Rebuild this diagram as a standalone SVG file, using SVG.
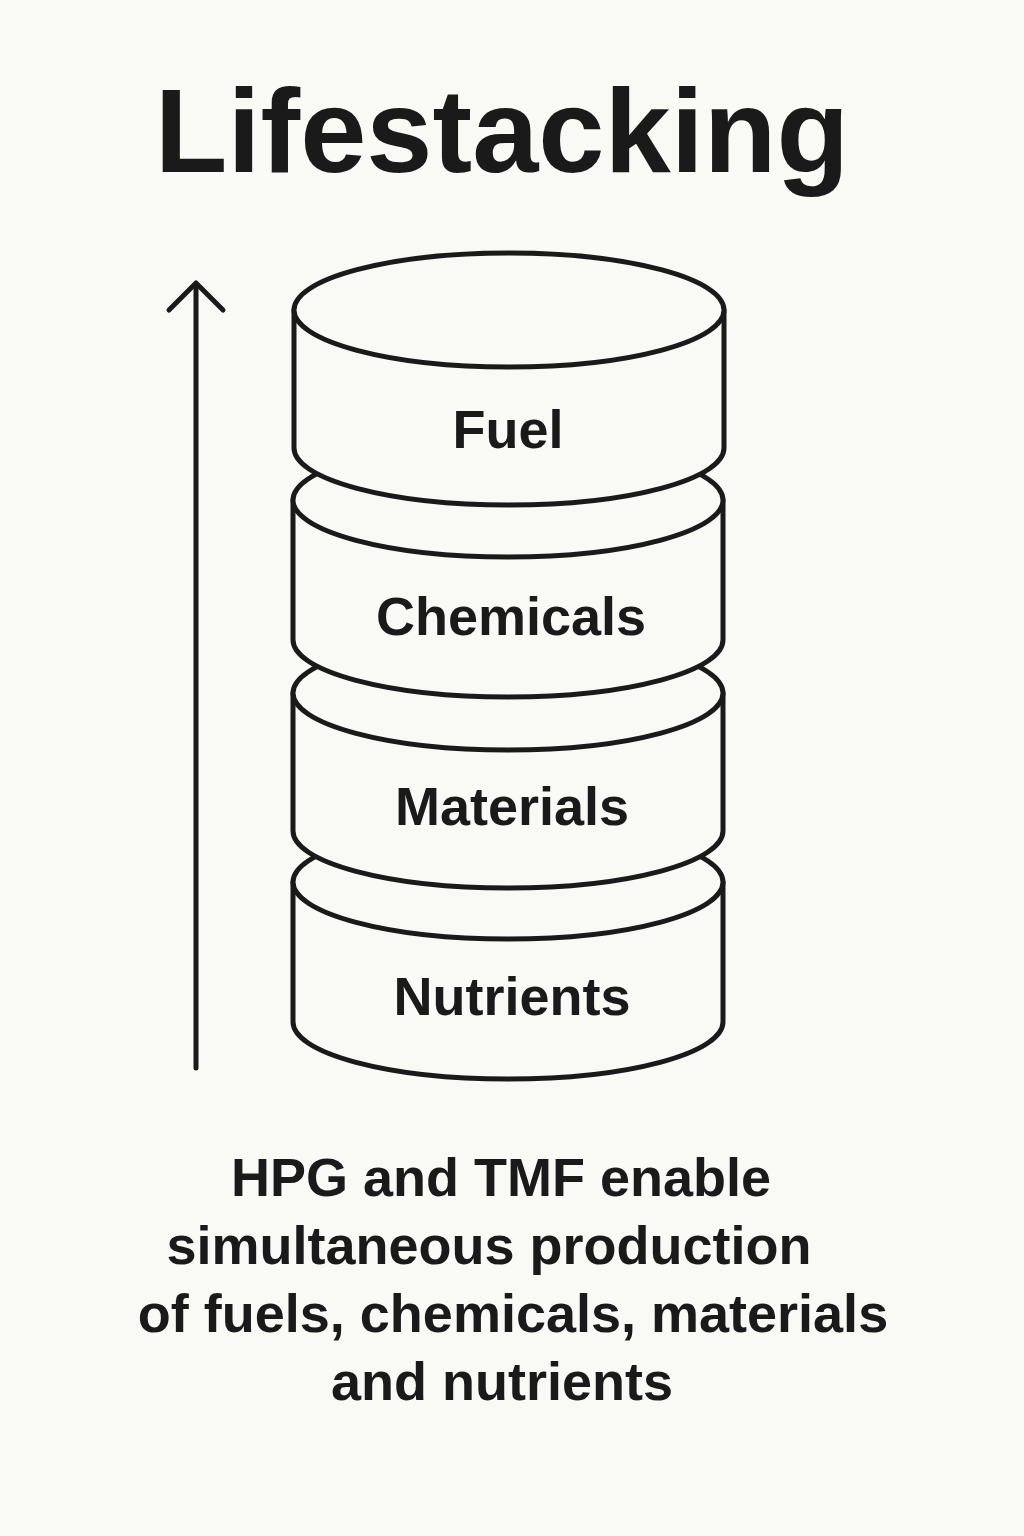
<svg xmlns="http://www.w3.org/2000/svg" width="1024" height="1536" viewBox="0 0 1024 1536">
<defs>
<style>
.bg{fill:#f9f9f6}
.cyl{fill:#f9f9f6;stroke:#1a1a1a;stroke-width:5;stroke-linejoin:round}
.lbl{font-family:"Liberation Sans",Arial,sans-serif;font-weight:700;font-size:54px;fill:#1a1a1a;text-anchor:middle}
.title{font-family:"Liberation Sans",Arial,sans-serif;font-weight:700;font-size:119px;fill:#1a1a1a;text-anchor:middle}
.cap{font-family:"Liberation Sans",Arial,sans-serif;font-weight:700;font-size:54px;fill:#1a1a1a;text-anchor:middle}
.arr{fill:none;stroke:#1a1a1a;stroke-width:5;stroke-linecap:round;stroke-linejoin:round}
</style>
</defs>
<rect class="bg" x="0" y="0" width="1024" height="1536"/>
<text class="title" x="502" y="172">Lifestacking</text>

<g id="connectors">
<path class="arr" d="M196 1068 L196 284"/>
<path class="arr" d="M169 310 L196 283 L223 310"/>
</g>

<g id="nutrients">
<path class="cyl" d="M293 882 L293 1022 A215 57 0 0 0 723 1022 L723 882 Z"/>
<ellipse class="cyl" cx="508" cy="882" rx="215" ry="57"/>
<text class="lbl" x="512" y="1015">Nutrients</text>
</g>

<g id="materials">
<path class="cyl" d="M293 693 L293 831 A215 57 0 0 0 723 831 L723 693 Z"/>
<ellipse class="cyl" cx="508" cy="693" rx="215" ry="57"/>
<text class="lbl" x="512" y="825">Materials</text>
</g>

<g id="chemicals">
<path class="cyl" d="M293 500 L293 640 A215 57 0 0 0 723 640 L723 500 Z"/>
<ellipse class="cyl" cx="508" cy="500" rx="215" ry="57"/>
<text class="lbl" x="511" y="635">Chemicals</text>
</g>

<g id="fuel">
<path class="cyl" d="M294 310 L294 448 A215 57 0 0 0 724 448 L724 310 Z"/>
<ellipse class="cyl" cx="509" cy="310" rx="215" ry="57"/>
<text class="lbl" x="508" y="448">Fuel</text>
</g>

<g id="caption">
<text class="cap" x="501" y="1196">HPG and TMF enable</text>
<text class="cap" x="489" y="1264">simultaneous production</text>
<text class="cap" x="513" y="1332">of fuels, chemicals, materials</text>
<text class="cap" x="502" y="1400">and nutrients</text>
</g>
</svg>
